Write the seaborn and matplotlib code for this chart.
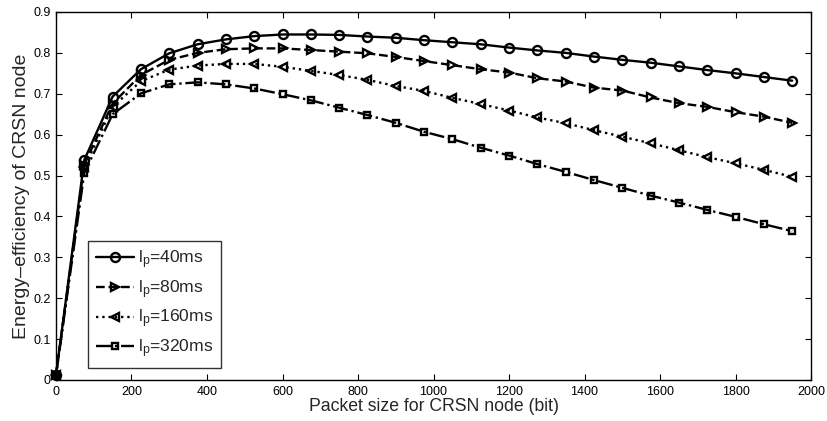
import numpy as np
import pandas as pd
import matplotlib
matplotlib.use("Agg")
import matplotlib.pyplot as plt
import seaborn as sns
from matplotlib.ticker import FuncFormatter

# ---- data ----
packet_size = [0, 75, 150, 225, 300, 375, 450, 525, 600, 675, 750, 825, 900,
               975, 1050, 1125, 1200, 1275, 1350, 1425, 1500, 1575, 1650,
               1725, 1800, 1875, 1950]

eff_40 = [0.012, 0.538, 0.693, 0.760, 0.799, 0.821, 0.833, 0.841, 0.845, 0.845,
          0.844, 0.840, 0.837, 0.831, 0.826, 0.821, 0.813, 0.806, 0.800, 0.791,
          0.783, 0.776, 0.767, 0.758, 0.750, 0.741, 0.732]
eff_80 = [0.012, 0.527, 0.676, 0.746, 0.783, 0.800, 0.809, 0.811, 0.811, 0.807,
          0.803, 0.799, 0.790, 0.780, 0.770, 0.760, 0.752, 0.738, 0.730, 0.715,
          0.708, 0.691, 0.677, 0.668, 0.655, 0.644, 0.629]
eff_160 = [0.012, 0.520, 0.668, 0.731, 0.759, 0.769, 0.773, 0.773, 0.766, 0.756,
           0.746, 0.734, 0.719, 0.707, 0.690, 0.675, 0.659, 0.642, 0.628, 0.611,
           0.595, 0.579, 0.562, 0.545, 0.530, 0.514, 0.497]
eff_320 = [0.012, 0.507, 0.650, 0.701, 0.723, 0.728, 0.723, 0.713, 0.699, 0.684,
           0.666, 0.648, 0.629, 0.607, 0.589, 0.568, 0.549, 0.528, 0.509, 0.489,
           0.470, 0.451, 0.434, 0.416, 0.399, 0.381, 0.364]

labels = ["l$_p$=40ms", "l$_p$=80ms", "l$_p$=160ms", "l$_p$=320ms"]
series = [eff_40, eff_80, eff_160, eff_320]
x_ticks = [0, 200, 400, 600, 800, 1000, 1200, 1400, 1600, 1800, 2000]
y_ticks = [0, 0.1, 0.2, 0.3, 0.4, 0.5, 0.6, 0.7, 0.8, 0.9]

# ---- style ----
sns.set_style("ticks")
plt.rcParams['font.family'] = ['Liberation Sans', 'DejaVu Sans']
plt.rcParams['mathtext.default'] = 'regular'

fig = plt.figure(figsize=(8.27, 4.21), dpi=100)
ax = fig.add_axes([0.0677, 0.0974, 0.9130, 0.8741])

linestyles = ['-', '--', ':', '-.']
markers = ['o', '>', '<', 's']
msizes = [6.5, 6.3, 6.3, 5]

for vals, lab, ls, mk, ms in zip(series, labels, linestyles, markers, msizes):
    df = pd.DataFrame({"x": packet_size, "y": vals})
    sns.lineplot(data=df, x="x", y="y", ax=ax, color='black', linestyle=ls,
                 linewidth=1.7, marker=mk, markersize=ms, markerfacecolor='none',
                 markeredgecolor='black', markeredgewidth=1.7, label=lab,
                 clip_on=False)

ax.set_xlim(0, 2000)
ax.set_ylim(0, 0.9)
ax.set_xticks(x_ticks)
ax.set_yticks(y_ticks)
ax.yaxis.set_major_formatter(FuncFormatter(lambda v, p: f"{v:g}"))
ax.tick_params(direction='in', length=4, width=0.8, top=True, right=True,
               labelsize=9, pad=4, colors='black')
for s in ax.spines.values():
    s.set_visible(True)
    s.set_color('black')
    s.set_linewidth(1.0)

ax.set_xlabel("Packet size for CRSN node (bit)", fontsize=12.7, labelpad=0)
ax.set_ylabel("Energy\u2013efficiency of CRSN node", fontsize=14, labelpad=2)

leg = ax.legend(loc='lower left', bbox_to_anchor=(0.0425, 0.033), borderaxespad=0,
                fontsize=12.6, frameon=True, fancybox=False, edgecolor='black',
                handlelength=2.2, labelspacing=0.4, handletextpad=0.2,
                borderpad=0.45)
leg.get_frame().set_linewidth(1.0)

fig.savefig("out.png", dpi=100, facecolor='white')
